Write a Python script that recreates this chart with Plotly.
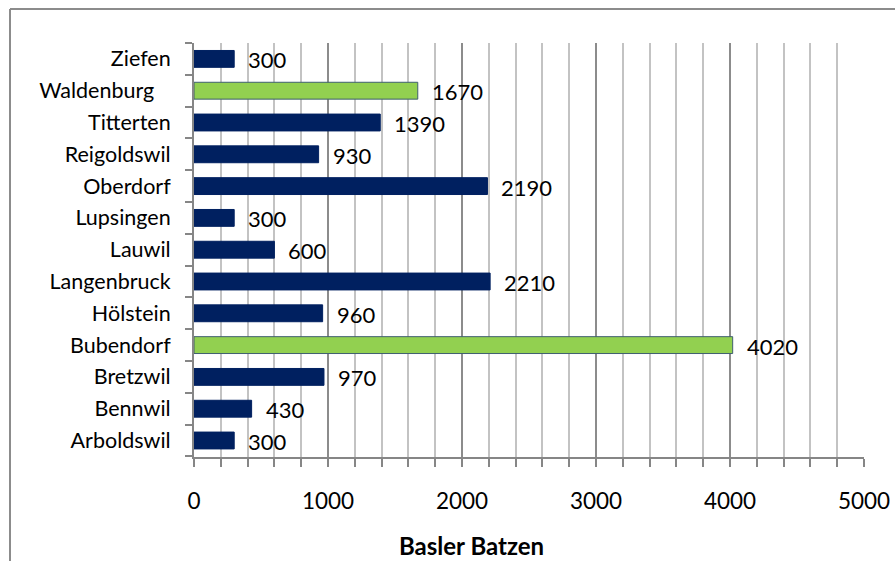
import plotly.graph_objects as go

# Municipalities (bottom to top) and their amounts in Basler Batzen
gemeinden = ["Arboldswil", "Bennwil", "Bretzwil", "Bubendorf", "Hölstein",
             "Langenbruck", "Lauwil", "Lupsingen", "Oberdorf", "Reigoldswil",
             "Titterten", "Waldenburg", "Ziefen"]
batzen = [300, 430, 970, 4020, 960, 2210, 600, 300, 2190, 930, 1390, 1670, 300]
hervorgehoben = ["Bubendorf", "Waldenburg"]

x_ticks = [0, 1000, 2000, 3000, 4000, 5000]

NAVY = "#002060"
GREEN = "#92D050"
AXIS_GRAY = "#868686"
FONT = "Lato"

W, H = 895, 561
ML, MR, MT, MB = 194, 31, 43, 104
plot_w = W - ML - MR
plot_h = H - MT - MB

colors = [GREEN if g in hervorgehoben else NAVY for g in gemeinden]
line_colors = ["#3f5f6f" if g in hervorgehoben else NAVY for g in gemeinden]
# Waldenburg's label carries trailing spaces in the category axis
tick_text = [g + "\u00a0\u00a0\u00a0" if g == "Waldenburg" else g for g in gemeinden]

fig = go.Figure()
fig.add_trace(go.Bar(
    x=batzen,
    y=gemeinden,
    orientation="h",
    width=0.53,
    marker=dict(color=colors, line=dict(color=line_colors, width=1)),
    hoverinfo="x+y",
))

# value labels to the right of each bar
for g, v in zip(gemeinden, batzen):
    fig.add_annotation(
        x=v, y=g, xref="x", yref="y",
        text=str(v), showarrow=False,
        xanchor="left", yanchor="middle",
        xshift=12, yshift=-1,
        font=dict(family=FONT, size=22, color="#000000"),
    )

# axis title, centred on the chart frame
fig.add_annotation(
    x=(471 - ML) / plot_w, y=(H - MB - 545) / plot_h,
    xref="paper", yref="paper",
    xanchor="center", yanchor="middle",
    text="<b>Basler Batzen</b>", showarrow=False,
    font=dict(family=FONT, size=24, color="#000000"),
)

# chart frame: top and left edges (the rest lies outside the page)
fx0 = (10 - ML) / plot_w
fy1 = (H - MB - 9) / plot_h
for x0, y0, x1, y1 in [(fx0, fy1, 1.2, fy1), (fx0, fy1, fx0, -0.4)]:
    fig.add_shape(
        type="line", xref="paper", yref="paper",
        x0=x0, y0=y0, x1=x1, y1=y1,
        line=dict(color="#8c8c8c", width=2),
        layer="below",
    )

fig.update_layout(
    width=W,
    height=H,
    margin=dict(l=ML, r=MR, t=MT, b=MB, autoexpand=False),
    paper_bgcolor="white",
    plot_bgcolor="white",
    showlegend=False,
    xaxis=dict(
        automargin=False,
        range=[0, 5000],
        tickvals=x_ticks,
        ticktext=[str(t) for t in x_ticks],
        ticks="outside",
        ticklen=8,
        tickwidth=2,
        tickcolor=AXIS_GRAY,
        ticklabelstandoff=15,
        showline=True,
        linecolor=AXIS_GRAY,
        linewidth=2,
        showgrid=True,
        gridcolor="#8c8c8c",
        gridwidth=1.5,
        zeroline=False,
        tickfont=dict(family=FONT, size=22.5, color="#000000"),
        minor=dict(dtick=200, ticks="outside", ticklen=8, tickwidth=2,
                   tickcolor=AXIS_GRAY, showgrid=True,
                   gridcolor="#c3c3c3", gridwidth=1.5),
    ),
    yaxis=dict(
        automargin=False,
        type="category",
        categoryorder="array",
        categoryarray=gemeinden,
        tickvals=gemeinden,
        ticktext=tick_text,
        tickson="boundaries",
        ticks="outside",
        ticklen=7,
        tickwidth=2,
        tickcolor=AXIS_GRAY,
        ticklabelstandoff=17,
        showline=True,
        linecolor=AXIS_GRAY,
        linewidth=2,
        showgrid=False,
        tickfont=dict(family=FONT, size=21.5, color="#000000"),
    ),
)

fig.write_html("out.html")
